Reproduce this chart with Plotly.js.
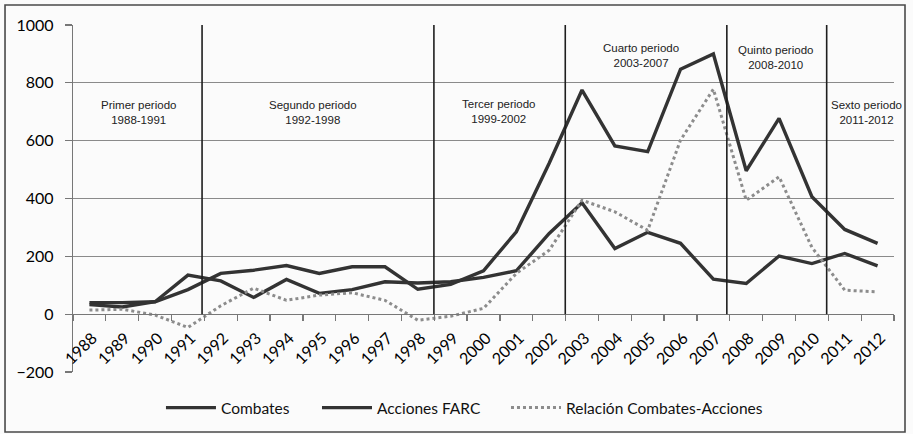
<!DOCTYPE html>
<html>
<head>
<meta charset="utf-8">
<script src="https://cdn.plot.ly/plotly-3.0.1.min.js"></script>
<style>
  html, body { margin: 0; padding: 0; background: #fbfbfb; }
  #chart { width: 913px; height: 434px; }
</style>
</head>
<body>
<div id="chart"></div>
<script>
const years = ["1988","1989","1990","1991","1992","1993","1994","1995","1996","1997","1998","1999","2000",
               "2001","2002","2003","2004","2005","2006","2007","2008","2009","2010","2011","2012"];
const combates = [40, 40, 43, 85, 141, 152, 168, 141, 164, 164, 86, 103, 150,
                  285, 522, 775, 582, 562, 847, 900, 496, 677, 406, 293, 245];
const acciones = [33, 25, 43, 135, 115, 58, 120, 72, 85, 112, 108, 112, 127,
                  150, 279, 385, 227, 283, 245, 121, 106, 201, 175, 210, 167];
const relacion = [14, 17, -3, -46, 29, 90, 48, 66, 74, 48, -21, -7, 20,
                  141, 221, 394, 354, 290, 602, 778, 394, 475, 231, 83, 77];

const seriesNames = ["Combates", "Acciones FARC", "Relación Combates-Acciones"];

// Period separators (between categories) and labels
const periodBreaks = [3.43, 10.49, 14.49, 19.41, 22.45];
const periodLabels = ["Primer periodo<br>1988-1991", "Segundo periodo<br>1992-1998", "Tercer periodo<br>1999-2002",
                      "Cuarto periodo<br>2003-2007", "Quinto periodo<br>2008-2010", "Sexto periodo<br>2011-2012"];
const periodLabelX = [1.48, 6.81, 12.47, 16.8, 20.9, 23.65];
const periodLabelY = [697, 697, 700, 893, 886, 697];

const traces = [
  {x: years, y: combates, name: seriesNames[0], type: "scatter", mode: "lines", legend: "legend",
   line: {color: "#333333", width: 3.4}},
  {x: years, y: acciones, name: seriesNames[1], type: "scatter", mode: "lines", legend: "legend2",
   line: {color: "#333333", width: 3.4}},
  {x: years, y: relacion, name: seriesNames[2], type: "scatter", mode: "lines", legend: "legend3",
   line: {color: "#8c8c8c", width: 3, dash: "dot"}}
];

const shapes = periodBreaks.map(b => ({
  type: "line", xref: "x", yref: "y", x0: b, x1: b, y0: 0, y1: 1000,
  line: {color: "#1e1e1e", width: 1.6}, layer: "above"
}));
// outer frame of the figure
shapes.push({type: "rect", xref: "paper", yref: "paper",
  x0: -0.0828, x1: 1.0134, y0: -0.1729, y1: 1.0576,
  line: {color: "#4a4a4a", width: 1.6}, fillcolor: "rgba(0,0,0,0)", layer: "below"});

const annotations = periodLabels.map((t, i) => ({
  text: t, x: periodLabelX[i], y: periodLabelY[i], xref: "x", yref: "y",
  showarrow: false, align: "center",
  font: {family: "'Liberation Sans Narrow', 'Arial Narrow', 'Liberation Sans', sans-serif", size: 11.5, color: "#222"}
}));

const legendBase = {
  orientation: "h", xref: "container", yref: "container",
  xanchor: "left", y: 0.0599, yanchor: "middle",
  font: {family: "Lato, 'Open Sans', sans-serif", size: 15.5, color: "#111"},
  itemwidth: 50, bgcolor: "rgba(0,0,0,0)"
};

const layout = {
  width: 913, height: 434,
  margin: {l: 73, r: 19, t: 25, b: 62, autoexpand: false},
  paper_bgcolor: "#fbfbfb", plot_bgcolor: "#fbfbfb",
  showlegend: true,
  legend: Object.assign({}, legendBase, {x: 0.1763}),
  legend2: Object.assign({}, legendBase, {x: 0.3472}),
  legend3: Object.assign({}, legendBase, {x: 0.5542}),
  xaxis: {
    type: "category", range: [-0.5, 24.5],
    anchor: "free", position: 1/6,
    showline: true, linecolor: "#777", linewidth: 1.3,
    ticks: "outside", ticklen: 6, tickcolor: "#777", tickwidth: 1.3,
    tickson: "boundaries",
    tickangle: -45,
    ticklabelstandoff: 7, ticklabelshift: 3,
    tickfont: {family: "Lato, 'Open Sans', sans-serif", size: 16, color: "#000"},
    showgrid: false, zeroline: false
  },
  yaxis: {
    range: [-200, 1000], dtick: 200, tick0: 0,
    showline: true, linecolor: "#777", linewidth: 1.3,
    ticks: "outside", ticklen: 7, tickcolor: "#777", tickwidth: 1.3,
    ticklabelstandoff: 8,
    showgrid: true, gridcolor: "#8a8a8a", gridwidth: 1.3,
    zeroline: false,
    tickfont: {family: "Lato, 'Open Sans', sans-serif", size: 16, color: "#000"}
  },
  shapes: shapes,
  annotations: annotations
};

Plotly.newPlot("chart", traces, layout, {displayModeBar: false, staticPlot: true});
</script>
</body>
</html>
